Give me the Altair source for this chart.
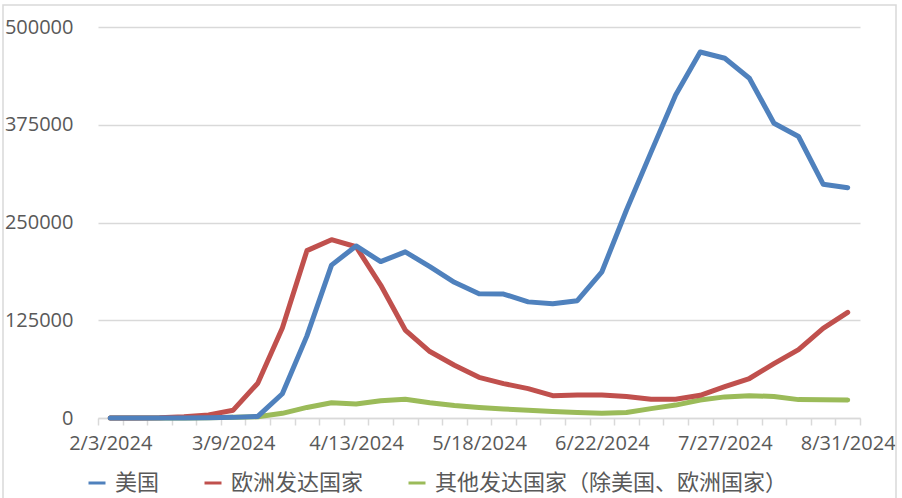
import altair as alt
import pandas as pd

dates = ["2/3/2024", "2/10/2024", "2/17/2024", "2/24/2024", "3/2/2024", "3/9/2024",
         "3/16/2024", "3/23/2024", "3/30/2024", "4/6/2024", "4/13/2024", "4/20/2024",
         "4/27/2024", "5/4/2024", "5/11/2024", "5/18/2024", "5/25/2024", "6/1/2024",
         "6/8/2024", "6/15/2024", "6/22/2024", "6/29/2024", "7/6/2024", "7/13/2024",
         "7/20/2024", "7/27/2024", "8/3/2024", "8/10/2024", "8/17/2024", "8/24/2024",
         "8/31/2024"]

us = [0, 0, 0, 0, 300, 800, 2000, 31000, 105000, 195500, 220000, 200000, 212500,
      193500, 173500, 159000, 158500, 148500, 146000, 150000, 187000, 266000, 340000,
      413000, 468000, 460000, 434500, 377000, 360000, 299000, 294500]

eu = [0, 0, 300, 1500, 4000, 10000, 44500, 115000, 214000, 228000, 219000, 170000,
      112500, 85000, 67500, 52000, 44000, 37500, 28500, 29300, 29400, 27500, 24000,
      24000, 29000, 40000, 50500, 69500, 87500, 114500, 135000]

other = [0, 0, 0, 0, 200, 800, 1500, 6000, 13500, 19500, 18000, 22000, 24000, 19500,
         16000, 13500, 11500, 9800, 8200, 6900, 6200, 7000, 12000, 16500, 23000, 27000,
         28500, 27500, 23500, 23200, 23000]

series_names = ["美国", "欧洲发达国家", "其他发达国家（除美国、欧洲国家）"]
series_colors = ["#4F81BD", "#C0504D", "#9BBB59"]
y_ticks = [0, 125000, 250000, 375000, 500000]
shown_labels = dates[::5]

rows = []
for name, vals in zip(series_names, [us, eu, other]):
    for d, v in zip(dates, vals):
        rows.append({"date": d, "value": v, "series": name})
df = pd.DataFrame(rows)

label_list = ",".join("'" + s + "'" for s in shown_labels)
label_expr = f"indexof([{label_list}], datum.value) >= 0 ? datum.value : ''"

grey_text = "#595959"
line_grey = "#d9d9d9"

x_enc = alt.X(
    "date:O", sort=dates, bandPosition=0.5,
    scale=alt.Scale(type="band", paddingInner=0, paddingOuter=0),
    axis=alt.Axis(title=None, tickBand="extent", labelExpr=label_expr, labelAngle=0,
                  labelOverlap=False, domainColor=line_grey, domainWidth=1.5,
                  tickColor=line_grey, tickWidth=1.5, tickSize=7, labelPadding=8,
                  labelFont="Open Sans", labelFontSize=20, labelColor=grey_text,
                  grid=False),
)
y_enc = alt.Y(
    "value:Q", scale=alt.Scale(domain=[0, 500000], nice=False),
    axis=alt.Axis(title=None, values=y_ticks, format="d", domain=False, ticks=False,
                  gridColor=line_grey, gridWidth=1.5, labelPadding=25,
                  labelFont="Open Sans", labelFontSize=20, labelColor=grey_text),
)
color_enc = alt.Color(
    "series:N",
    scale=alt.Scale(domain=series_names, range=series_colors),
    legend=alt.Legend(title=None, orient="none", legendX=-12, legendY=445,
                      direction="horizontal", symbolType="stroke", symbolSize=289,
                      symbolStrokeWidth=3, labelFont="Noto Sans CJK SC",
                      labelFontSize=22, labelColor=grey_text, columnPadding=38,
                      labelOffset=7, labelLimit=1000, padding=0),
)

base = alt.Chart(df).encode(x=x_enc, y=y_enc, color=color_enc)

layers = []
border = alt.Chart(alt.Data(values=[{}])).mark_rect(
    fillOpacity=0, stroke=line_grey, strokeWidth=1.5
).encode(x=alt.value(-95), x2=alt.value(798), y=alt.value(-22), y2=alt.value(480))
layers.append(border)

for name in [series_names[2], series_names[1], series_names[0]]:
    layers.append(
        base.transform_filter(alt.datum.series == name).mark_line(
            strokeWidth=5, strokeJoin="round", strokeCap="round"
        )
    )

chart = alt.layer(*layers).properties(
    width=762, height=391,
    autosize=alt.AutoSizeParams(type="none"),
    padding={"left": 98, "top": 27, "right": 42, "bottom": 80},
    background="white",
).configure_view(stroke=None)

chart.save("out.html", embed_options={"renderer": "svg", "actions": False})
